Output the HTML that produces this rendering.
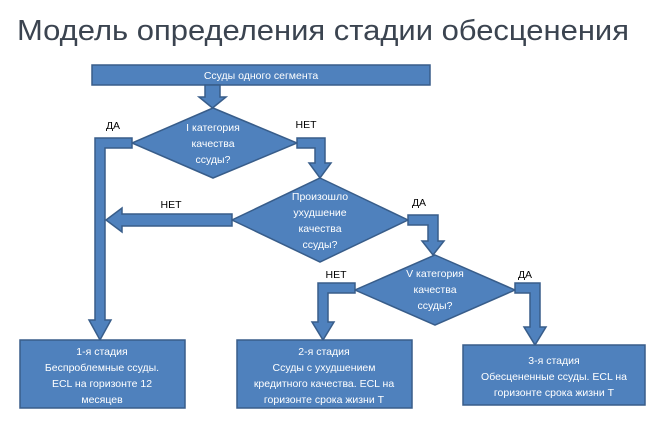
<!DOCTYPE html>
<html><head><meta charset="utf-8"><style>
html,body{margin:0;padding:0;background:#fff;}
svg{display:block;}
text{font-family:"Liberation Sans","DejaVu Sans",sans-serif;}
</style></head><body>
<svg width="666" height="423" viewBox="0 0 666 423" xmlns="http://www.w3.org/2000/svg">
<text x="17" y="40" font-size="29" fill="#3b4450" textLength="612" lengthAdjust="spacingAndGlyphs">Модель определения стадии обесценения</text>
<g fill="#4f81bd" stroke="#385d8a" stroke-width="1.5">
<rect x="92" y="65" width="338" height="20"/>
<!-- arrow bar -> d1 -->
<polygon points="205,85 220,85 220,97 226,97 212.5,108 199,97 205,97"/>
<!-- d1 -->
<polygon points="213,108 297,143 213,178 132,143"/>
<!-- DA left from d1 -->
<polygon points="132,138 95,138 95,320 89,320 100,340 111,320 105,320 105,148 132,148"/>
<!-- NET right from d1 -->
<polygon points="297,138 325,138 325,163 331,163 320,178 309,163 315,163 315,148 297,148"/>
<!-- d2 -->
<polygon points="320,178 408,220 320,262 232,220"/>
<!-- NET left from d2 -->
<polygon points="232,214 122,214 122,208 106,220 122,232 122,226 232,226"/>
<!-- DA right from d2 -->
<polygon points="408,215 438,215 438,241 444,241 433,255 422,241 428,241 428,225 408,225"/>
<!-- d3 -->
<polygon points="435,255 515,290 435,325 355,290"/>
<!-- NET left from d3 -->
<polygon points="355,283 318,283 318,322 312,322 323,340 334,322 328,322 328,293 355,293"/>
<!-- DA right from d3 -->
<polygon points="515,283 540,283 540,327 546,327 535,345 524,327 530,327 530,293 515,293"/>
<rect x="20" y="340" width="165" height="68"/>
<rect x="237" y="340" width="175" height="68"/>
<rect x="463" y="345" width="182" height="60"/>
</g>
<g fill="#fff" font-size="10.5" text-anchor="middle">
<text x="261" y="79">Ссуды одного сегмента</text>
<text x="213" y="131">I категория</text>
<text x="213" y="147">качества</text>
<text x="213" y="163">ссуды?</text>
<text x="320" y="200">Произошло</text>
<text x="320" y="216">ухудшение</text>
<text x="320" y="232">качества</text>
<text x="320" y="248">ссуды?</text>
<text x="435" y="277">V категория</text>
<text x="435" y="293">качества</text>
<text x="435" y="309">ссуды?</text>
<text x="102" y="355">1-я стадия</text>
<text x="102" y="371">Беспроблемные ссуды.</text>
<text x="102" y="387">ECL на горизонте 12</text>
<text x="102" y="403">месяцев</text>
<text x="324" y="355">2-я стадия</text>
<text x="324" y="371">Ссуды с ухудшением</text>
<text x="324" y="387">кредитного качества. ECL на</text>
<text x="324" y="403">горизонте срока жизни  T</text>
<text x="554" y="364">3-я стадия</text>
<text x="554" y="380">Обесцененные ссуды. ECL на</text>
<text x="554" y="396">горизонте срока жизни  T</text>
</g>
<g fill="#000" font-size="10.5" text-anchor="middle">
<text x="113" y="129">ДА</text>
<text x="306" y="128">НЕТ</text>
<text x="171" y="208">НЕТ</text>
<text x="419" y="206">ДА</text>
<text x="336" y="278">НЕТ</text>
<text x="525" y="278">ДА</text>
</g>
</svg>
</body></html>
